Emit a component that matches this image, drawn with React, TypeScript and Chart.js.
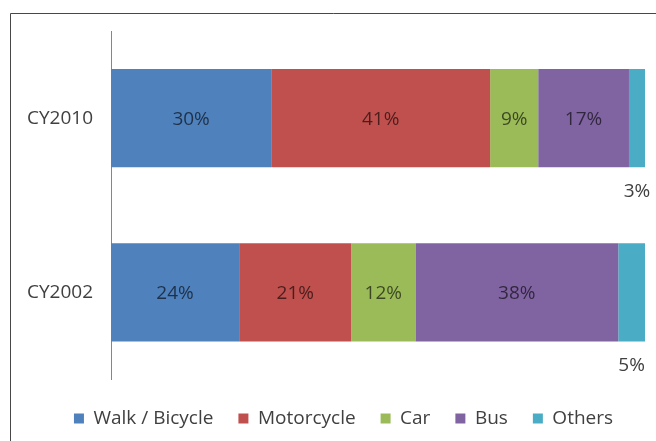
import React, { useEffect, useRef } from 'react';
import { Chart, registerables } from 'chart.js';

Chart.register(...registerables);

const categories = ['CY2010', 'CY2002'];
const seriesNames = ['Walk / Bicycle', 'Motorcycle', 'Car', 'Bus', 'Others'];
const walkBicycle = [30, 24];
const motorcycle = [41, 21];
const car = [9, 12];
const bus = [17, 38];
const others = [3, 5];
const seriesValues = [walkBicycle, motorcycle, car, bus, others];
const seriesColors = ['#4F81BD', '#C0504D', '#9BBB59', '#8064A2', '#4BACC6'];

const FONT = "'Open Sans', sans-serif";

const framePlugin = {
  id: 'frame',
  afterLayout(chart: any) {
    if (chart.legend) {
      chart.legend.left += 21;
      chart.legend.right += 21;
    }
  },
  beforeDraw(chart: any) {
    const ctx = chart.ctx;
    ctx.save();
    ctx.strokeStyle = '#474747';
    ctx.lineWidth = 1;
    ctx.beginPath();
    ctx.moveTo(10.5, 441);
    ctx.lineTo(10.5, 13.5);
    ctx.lineTo(656, 13.5);
    ctx.stroke();
    ctx.restore();
  },
};

const labelPlugin = {
  id: 'barLabels',
  afterDatasetsDraw(chart: any) {
    const ctx = chart.ctx;
    ctx.save();
    ctx.font = `19px ${FONT}`;
    ctx.textAlign = 'center';
    ctx.textBaseline = 'middle';
    chart.data.datasets.forEach((ds: any, di: number) => {
      const meta = chart.getDatasetMeta(di);
      meta.data.forEach((el: any, i: number) => {
        const v = ds.data[i];
        const cx = (el.x + el.base) / 2;
        if (v >= 6) {
          ctx.fillStyle = 'rgba(0,0,0,0.62)';
          ctx.fillText(v + '%', cx, el.y + 1);
        } else {
          ctx.fillStyle = '#404040';
          ctx.fillText(v + '%', cx, el.y + el.height / 2 + 24);
        }
      });
    });
    ctx.restore();
  },
};

export default function App() {
  const ref = useRef<HTMLCanvasElement>(null);
  useEffect(() => {
    if (!ref.current) return;
    const chart = new Chart(ref.current, {
      type: 'bar',
      data: {
        labels: categories,
        datasets: seriesNames.map((name, i) => ({
          label: name,
          data: seriesValues[i],
          backgroundColor: seriesColors[i],
          borderWidth: 0,
          barPercentage: 0.565,
          categoryPercentage: 1,
        })),
      },
      options: {
        indexAxis: 'y',
        responsive: false,
        animation: false,
        layout: { padding: { left: 0, right: 11, top: 31, bottom: 3 } },
        plugins: {
          legend: {
            position: 'bottom',
            labels: {
              boxWidth: 10,
              boxHeight: 10,
              padding: 25,
              color: '#404040',
              font: { family: FONT, size: 19 },
            },
          },
          tooltip: { enabled: false },
        },
        scales: {
          x: {
            stacked: true,
            min: 0,
            max: 100,
            ticks: { display: false },
            grid: { display: false, drawTicks: false },
            border: { display: false },
            afterFit: (s: any) => {
              s.height = 4.5;
            },
          },
          y: {
            stacked: true,
            ticks: {
              color: '#404040',
              padding: 18,
              font: { family: FONT, size: 19 },
            },
            grid: { display: false, drawTicks: false },
            border: { display: true, color: '#868686', width: 1 },
            afterFit: (s: any) => {
              s.width = 111;
            },
          },
        },
      },
      plugins: [framePlugin, labelPlugin],
    });
    return () => chart.destroy();
  }, []);
  return (
    <div style={{ position: 'fixed', left: 0, top: 0, width: 656, height: 441, background: '#fff' }}>
      <canvas ref={ref} width={656} height={441} />
    </div>
  );
}
